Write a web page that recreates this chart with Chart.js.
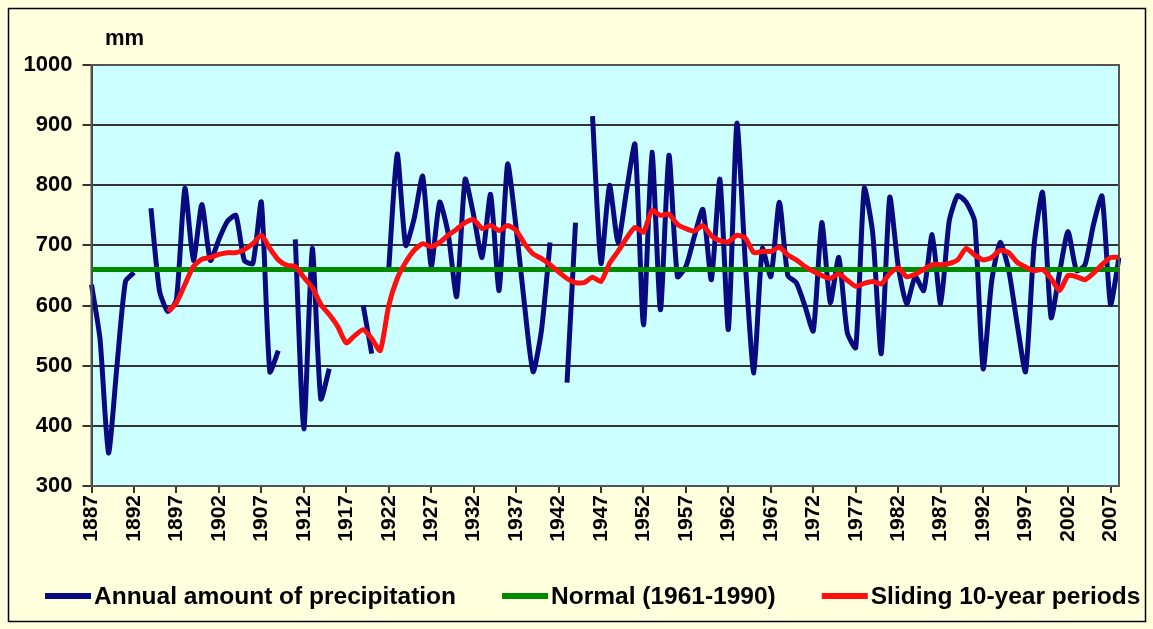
<!DOCTYPE html>
<html>
<head>
<meta charset="utf-8">
<script src="https://cdn.jsdelivr.net/npm/chart.js@4.4.1/dist/chart.umd.min.js"></script>
<style>
  html, body { margin: 0; padding: 0; background: #FFFFDD; }
  canvas { display: block; }
</style>
</head>
<body>
<canvas id="chuva" width="1153" height="629"></canvas>
<script>
const firstYear = 1887
const lastYear = 2008

// annual amount of precipitation, mm (null = no value, line is broken)
const precipitation = [
  635, 545, 355, 500, 640, 655, null, 762, 625, 590,   // 1887-1896
  610, 795, 675, 768, 675, 710, 740, 750, 675, 670,    // 1897-1906
  772, 490, 525, null, 710, 395, 695, 445, 495, null,  // 1907-1916
  null, null, 600, 520, null, 660, 852, 700, 745, 815, // 1917-1926
  665, 772, 720, 615, 810, 750, 680, 785, 625, 835,    // 1927-1936
  730, 600, 490, 560, 705, null, 472, 738, null, 915,  // 1937-1946
  670, 800, 705, 790, 868, 568, 855, 593, 850, 648,    // 1947-1956
  665, 715, 760, 643, 810, 560, 903, 670, 488, 695,    // 1957-1966
  648, 772, 650, 638, 600, 558, 738, 605, 680, 555,    // 1967-1976
  530, 795, 720, 520, 780, 665, 603, 648, 625, 718,    // 1977-1986
  603, 740, 783, 772, 740, 495, 640, 705, 660, 570,    // 1987-1996
  490, 700, 788, 580, 655, 723, 658, 668, 735, 782,    // 1997-2006
  602, 680                                             // 2007-2008
]

// sliding 10-year periods, mm
const sliding = [
  null, null, null, null, null, null, null, null, null, 590, // 1887-1896
  605, 635, 665, 677, 680, 685, 688, 688, 693, 703,          // 1897-1906
  717, 695, 676, 667, 665, 647, 630, 602, 585, 565,          // 1907-1916
  538, 550, 560, 545, 525, 600, 645, 672, 692, 703,          // 1917-1926
  698, 705, 717, 727, 738, 743, 728, 733, 725, 733,          // 1927-1936
  725, 703, 686, 678, 668, 656, 645, 638, 638, 647,          // 1937-1946
  640, 670, 690, 712, 730, 722, 758, 750, 752, 735,          // 1947-1956
  728, 724, 733, 716, 708, 706, 717, 712, 688, 690,          // 1957-1966
  690, 697, 684, 676, 665, 657, 650, 645, 653, 642,          // 1967-1976
  632, 637, 640, 636, 653, 663, 648, 652, 660, 668,          // 1977-1986
  668, 670, 676, 695, 684, 676, 680, 692, 688, 672,          // 1987-1996
  664, 658, 660, 645, 625, 650, 648, 643, 654, 668,          // 1997-2006
  680, 680                                                   // 2007-2008
]

// normal 1961-1990, mm
const normal = 660

const yTicks = [300, 400, 500, 600, 700, 800, 900, 1000]

const years = []
for (let y = firstYear; y <= lastYear; y++) years.push(String(y))

const grid = '#333333'

Chart.defaults.font.family = 'Arial, "Liberation Sans", sans-serif'
Chart.defaults.font.weight = 'bold'
Chart.defaults.color = '#000'

// background, frames, "mm" and the legend
const moldura = {
  id: 'moldura',
  beforeDraw(chart) {
    const {ctx, chartArea: a} = chart
    ctx.save()
    ctx.fillStyle = '#FFFFDD'
    ctx.fillRect(0, 0, chart.width, chart.height)
    ctx.fillStyle = '#CCFFFF'
    ctx.fillRect(a.left, a.top, a.right - a.left, a.bottom - a.top)
    ctx.restore()
  },
  afterDraw(chart) {
    const {ctx, chartArea: a} = chart
    ctx.save()
    ctx.strokeStyle = '#555'
    ctx.lineWidth = 2
    ctx.strokeRect(a.left, a.top, a.right - a.left, a.bottom - a.top)

    ctx.strokeStyle = '#000'
    ctx.lineWidth = 1.5
    ctx.strokeRect(8.5, 8.5, 1137, 613)

    ctx.fillStyle = '#000'
    ctx.font = 'bold 22px Arial, "Liberation Sans", sans-serif'
    ctx.textBaseline = 'alphabetic'
    ctx.fillText('mm', 105, 45)

    // legend
    ctx.font = 'bold 24.5px Arial, "Liberation Sans", sans-serif'
    let x = 45
    chart.data.datasets.forEach(ds => {
      ctx.strokeStyle = ds.borderColor
      ctx.lineWidth = 6
      ctx.beginPath()
      ctx.moveTo(x, 596)
      ctx.lineTo(x + 46, 596)
      ctx.stroke()
      ctx.fillText(ds.label, x + 49, 604)
      x += 49 + ctx.measureText(ds.label).width + 46
    })
    ctx.restore()
  }
}

new Chart(document.getElementById('chuva'), {
  type: 'line',
  data: {
    labels: years,
    datasets: [{
      label: 'Annual amount of precipitation',
      data: precipitation,
      borderColor: '#0A0A80',
      borderWidth: 5,
      pointRadius: 0,
      tension: 0.2,
      spanGaps: false,
      order: 3
    }, {
      label: 'Normal (1961-1990)',
      data: [{x: String(firstYear), y: normal}, {x: String(lastYear), y: normal}],
      borderColor: '#008A00',
      borderWidth: 5,
      pointRadius: 0,
      order: 2
    }, {
      label: 'Sliding 10-year periods',
      data: sliding,
      borderColor: '#FF1010',
      borderWidth: 5,
      pointRadius: 0,
      tension: 0.2,
      order: 1
    }]
  },
  options: {
    responsive: false,
    animation: false,
    layout: {
      padding: {left: 0, right: 34, top: 65, bottom: 0}
    },
    plugins: {
      legend: {display: false},
      tooltip: {enabled: false}
    },
    scales: {
      x: {
        offset: false,
        afterFit(scale) { scale.height = 143 },
        grid: {
          drawOnChartArea: false,
          drawTicks: true,
          tickLength: 7,
          color: grid,
          lineWidth: 2
        },
        border: {color: grid, width: 2},
        ticks: {
          autoSkip: false,
          minRotation: 90,
          maxRotation: 90,
          padding: 2,
          font: {size: 21, weight: 'bold'},
          callback(value) {
            const label = this.getLabelForValue(value)
            return (Number(label) - firstYear) % 5 === 0 ? label : null
          }
        }
      },
      y: {
        min: 300,
        max: 1000,
        afterFit(scale) { scale.width = 91.5 },
        afterBuildTicks(scale) { scale.ticks = yTicks.map(v => ({value: v})) },
        grid: {
          color: grid,
          lineWidth: 2,
          tickLength: 9
        },
        border: {color: grid, width: 2},
        ticks: {
          padding: 10,
          font: {size: 22, weight: 'bold'},
          callback: v => String(v)
        }
      }
    }
  },
  plugins: [moldura]
})
</script>
</body>
</html>
